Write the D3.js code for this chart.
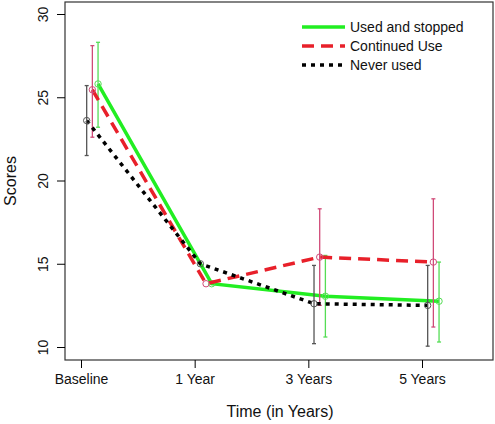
<!DOCTYPE html>
<html><head><meta charset="utf-8">
<script src="https://cdn.jsdelivr.net/npm/d3@7"></script>
<style>body{margin:0;background:#fff}text{font-family:"Liberation Sans",Arial,sans-serif}</style>
</head><body><svg id="chart" width="495" height="424"></svg>
<script>
const timepoints = ["Baseline", "1 Year", "3 Years", "5 Years"];
const seriesNames = ["Used and stopped", "Continued Use", "Never used"];
const usedStopped = [25.8, 13.8, 13.05, 12.75];
const usedStoppedLo = [23.2, 13.8, 10.6, 10.3];
const usedStoppedHi = [28.3, 13.8, 15.5, 15.1];
const continued = [25.45, 13.8, 15.4, 15.1];
const continuedLo = [22.6, 13.8, 12.5, 11.2];
const continuedHi = [28.1, 13.8, 18.3, 18.9];
const never = [23.6, 15.0, 12.6, 12.5];
const neverLo = [21.5, 15.0, 10.2, 10.05];
const neverHi = [25.7, 15.0, 14.9, 14.9];
const yTicks = [10, 15, 20, 25, 30];

const series = [
  {name: seriesNames[0], v: usedStopped, lo: usedStoppedLo, hi: usedStoppedHi, off: 0.15, color: "#22ee22", err: "#55dd55", dash: null, w: 3.5},
  {name: seriesNames[1], v: continued, lo: continuedLo, hi: continuedHi, off: 0.10, color: "#e8202a", err: "#d04a78", dash: "12,7", w: 3.5},
  {name: seriesNames[2], v: never, lo: neverLo, hi: neverHi, off: 0.05, color: "#000", err: "#555", dash: "4,5", w: 3.5}
];

const svg = d3.select("#chart");
const L = 65, R = 493, T = 2, B = 360;
const x = d3.scaleLinear().domain([0, 3]).range([81, 422]);
const y = d3.scaleLinear().domain([10, 30]).range([347, 14]);

svg.append("rect").attr("x", L).attr("y", T).attr("width", R - L).attr("height", B - T)
  .attr("fill", "none").attr("stroke", "#333").attr("stroke-width", 1.2);

svg.append("g").attr("transform", `translate(0,${B})`)
  .call(d3.axisBottom(x).tickValues([0, 1, 2, 3]).tickFormat(i => timepoints[i]).tickSize(8).tickPadding(6))
  .call(g => g.select(".domain").remove())
  .call(g => g.selectAll("text").attr("font-size", 14).attr("fill", "#111"));
svg.append("g").attr("transform", `translate(${L},0)`)
  .call(d3.axisLeft(y).tickValues(yTicks).tickSize(8).tickPadding(6))
  .call(g => g.select(".domain").remove())
  .call(g => g.selectAll("text").attr("font-size", 14).attr("fill", "#111").attr("transform", function(){ return "rotate(-90," + this.getAttribute("x") + ",0)"; }).attr("text-anchor", "middle").attr("dy", "-0.2em"));

series.forEach(s => {
  const px = i => x(i + s.off);
  const line = d3.line().x((d, i) => px(i)).y(d => y(d));
  svg.append("path").datum(s.v).attr("d", line).attr("fill", "none")
    .attr("stroke", s.color).attr("stroke-width", s.w).attr("stroke-dasharray", s.dash);
  s.v.forEach((v, i) => {
    if (s.hi[i] - s.lo[i] > 0.5) {
      svg.append("line").attr("x1", px(i)).attr("x2", px(i)).attr("y1", y(s.lo[i])).attr("y2", y(s.hi[i])).attr("stroke", s.err).attr("stroke-width", 1.3);
      [s.lo[i], s.hi[i]].forEach(e => svg.append("line").attr("x1", px(i) - 2).attr("x2", px(i) + 2).attr("y1", y(e)).attr("y2", y(e)).attr("stroke", s.err).attr("stroke-width", 1.3));
    }
    svg.append("circle").attr("cx", px(i)).attr("cy", y(v)).attr("r", 3.2).attr("fill", "none").attr("stroke", s.err).attr("stroke-width", 1);
  });
});

const leg = svg.append("g");
series.forEach((s, i) => {
  const ly = 27 + i * 19;
  leg.append("line").attr("x1", 302).attr("x2", 345).attr("y1", ly).attr("y2", ly)
    .attr("stroke", s.color).attr("stroke-width", s.w).attr("stroke-dasharray", s.dash);
  leg.append("text").attr("x", 350).attr("y", ly + 5).attr("font-size", 14).attr("fill", "#111").text(s.name);
});

svg.append("text").attr("x", 280).attr("y", 417).attr("text-anchor", "middle").attr("font-size", 16).attr("fill", "#111").text("Time (in Years)");
svg.append("text").attr("transform", `translate(16,${(T + B) / 2}) rotate(-90)`).attr("text-anchor", "middle").attr("font-size", 16).attr("fill", "#111").text("Scores");
</script></body></html>
